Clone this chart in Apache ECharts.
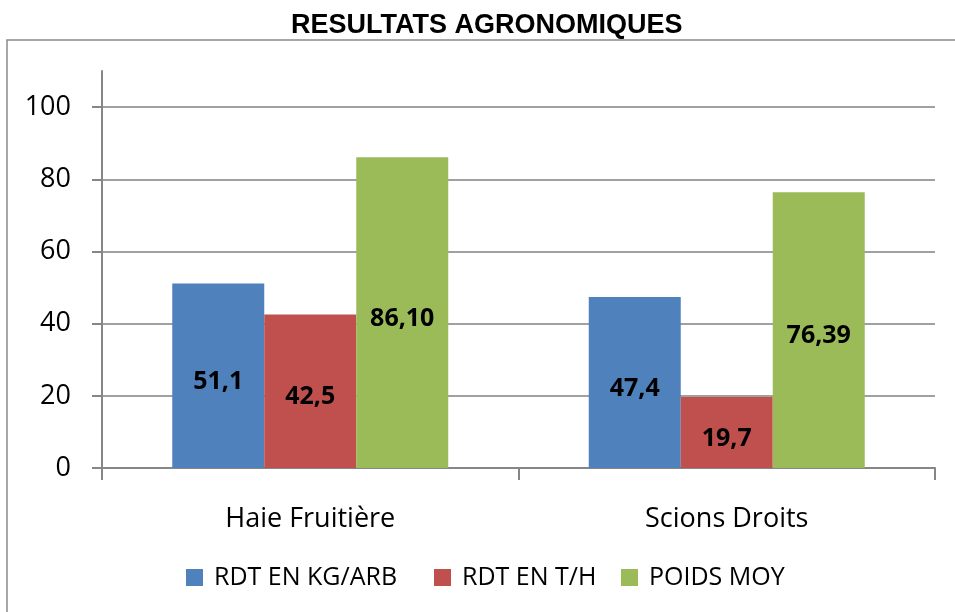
<!DOCTYPE html>
<html>
<head>
<meta charset="utf-8">
<script src="https://cdn.jsdelivr.net/npm/echarts@6/dist/echarts.min.js"></script>
<style>html,body{margin:0;padding:0;background:#fff}#c{width:955px;height:612px}</style>
</head>
<body>
<div id="c"></div>
<script>
const categories = ['Haie Fruitière', 'Scions Droits'];
const seriesNames = ['RDT EN KG/ARB', 'RDT EN T/H', 'POIDS MOY'];
const rdtKgArb = [51.1, 47.4];
const rdtTH = [42.5, 19.7];
const poidsMoy = [86.10, 76.39];
const labelDecimals = [1, 1, 2];
const yTicks = [0, 20, 40, 60, 80, 100];
const colors = ['#4F81BD', '#C0504D', '#9BBB59'];

const seriesData = [rdtKgArb, rdtTH, poidsMoy];
const chart = echarts.init(document.getElementById('c'));
const legendLefts = [186, 434, 621];

chart.setOption({
  animation: false,
  backgroundColor: '#fff',
  title: {
    text: 'RESULTATS AGRONOMIQUES',
    left: 286,
    top: 7,
    textStyle: { fontFamily: 'Liberation Sans', fontWeight: 'bold', fontSize: 27, color: '#000' }
  },
  graphic: [{
    type: 'rect', shape: { x: 7, y: 40, width: 960, height: 590 },
    style: { fill: 'none', stroke: '#8a8a8a', lineWidth: 1.5 }, silent: true, z: -1
  }],
  legend: seriesNames.map((n, i) => ({
    data: [n], left: legendLefts[i], top: 565, itemWidth: 17, itemHeight: 17, padding: 0,
    icon: 'rect', selectedMode: false,
    textStyle: { fontFamily: 'Open Sans', fontSize: 25, color: '#000', padding: [0, 0, 0, 6] }
  })),
  grid: { left: 102, right: 20, top: 71, bottom: 144, outerBoundsMode: 'none' },
  xAxis: {
    type: 'category', data: categories,
    axisLine: { lineStyle: { color: '#868686', width: 2 } },
    axisTick: { show: true, length: 12, lineStyle: { color: '#868686', width: 2 } },
    axisLabel: { fontFamily: 'Open Sans', fontSize: 27, color: '#000', margin: 38 }
  },
  yAxis: {
    type: 'value', min: 0, max: 110, interval: 20,
    axisLine: { show: true, lineStyle: { color: '#868686', width: 2 } },
    axisTick: { show: true, length: 10, customValues: yTicks, lineStyle: { color: '#868686', width: 2 } },
    axisLabel: { customValues: yTicks, fontFamily: 'Open Sans', fontSize: 27, color: '#000', margin: 31 },
    splitLine: { show: true, lineStyle: { color: '#a0a0a0', width: 2 } }
  },
  series: seriesNames.map((n, i) => ({
    name: n, type: 'bar', data: seriesData[i], barWidth: 92, barGap: '0%',
    itemStyle: { color: colors[i] },
    label: {
      show: true, position: 'inside', color: '#000', offset: [0, 6],
      fontFamily: 'Open Sans', fontWeight: 'bold', fontSize: 25,
      formatter: p => p.value.toFixed(labelDecimals[i]).replace('.', ',')
    }
  }))
});
</script>
</body>
</html>
